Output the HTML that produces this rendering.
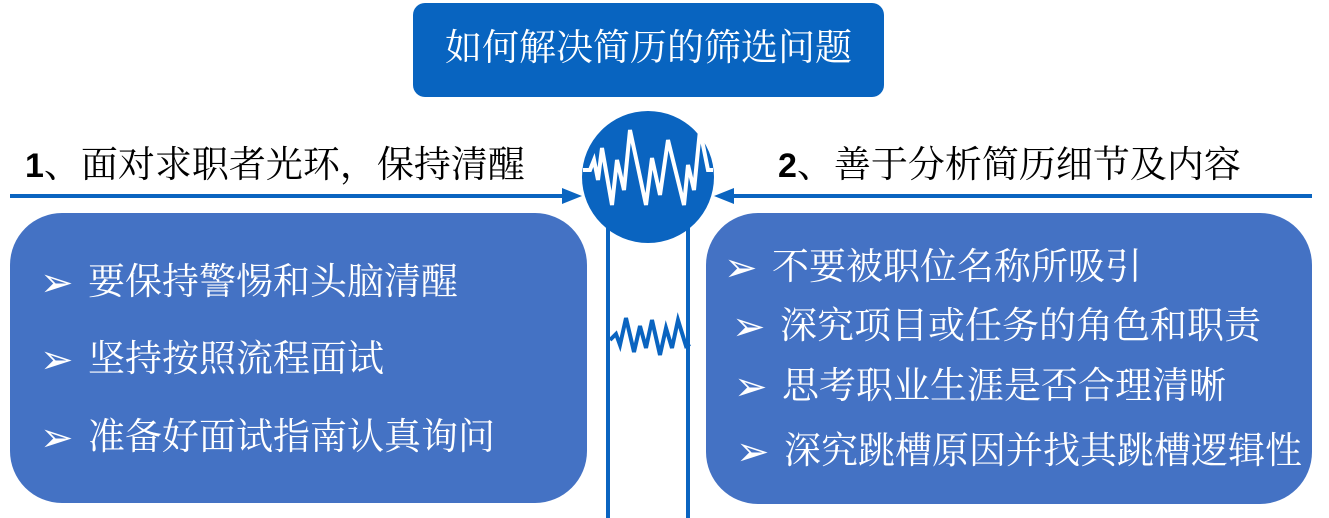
<!DOCTYPE html>
<html><head><meta charset="utf-8"><style>
body{margin:0;width:1329px;height:518px;background:#fff;position:relative;overflow:hidden;font-family:"Liberation Serif","Noto Serif CJK SC",serif}
.t{position:absolute;white-space:nowrap;font-size:37px;line-height:40px}
.w{color:#fff}
.a{display:inline-block;width:48px;font-size:40px;font-family:"DejaVu Sans",sans-serif;vertical-align:top;line-height:40px}
.box{position:absolute;background:#4472C4;border-radius:52px}
</style></head><body>
<div style="position:absolute;left:413px;top:3px;width:471px;height:94px;background:#0864C0;border-radius:12px"></div>
<div class="t w" style="left:413px;width:471px;text-align:center;top:29px">如何解决简历的筛选问题</div>
<div class="box" style="left:10px;top:213px;width:577px;height:290px"></div>
<div class="box" style="left:706px;top:213px;width:606px;height:291px"></div>
<svg style="position:absolute;left:0;top:0" width="1329" height="518">
<line x1="10" y1="196" x2="568" y2="196" stroke="#0a64c0" stroke-width="4"/>
<polygon points="582,196 562,188 562,204" fill="#0a64c0"/>
<line x1="734" y1="196" x2="1312" y2="196" stroke="#0a64c0" stroke-width="4"/>
<polygon points="714,196 734,188 734,204" fill="#0a64c0"/>
<line x1="608" y1="225" x2="608" y2="518" stroke="#0a64c0" stroke-width="4"/>
<line x1="688" y1="225" x2="688" y2="518" stroke="#0a64c0" stroke-width="4"/>
<circle cx="648" cy="177" r="66" fill="#0a64c0"/>
<polyline points="583,170 590,170 594,160 598,180 602,148 612,205 617,160 624,190 630,130 646,205 652,158 660,195 668,140 684,205 688,165 694,190 700,130 708,170 713,170" fill="none" stroke="#fff" stroke-width="4"/>
<polyline points="610,340 616,334 620,345 626,318 634,352 640,326 646,348 652,320 660,355 666,328 672,348 678,320 686,346 690,344" fill="none" stroke="#0a64c0" stroke-width="4"/>
</svg>
<div class="t" style="left:25px;top:146px;color:#000"><b style="font-size:34px;font-family:'Liberation Sans',sans-serif">1</b>、面对求职者光环，保持清醒</div>
<div class="t" style="left:778px;top:146px;color:#000"><b style="font-size:34px;font-family:'Liberation Sans',sans-serif">2</b>、善于分析简历细节及内容</div>
<div class="t w" style="left:40px;top:263px"><span class="a">➢</span>要保持警惕和头脑清醒</div>
<div class="t w" style="left:40px;top:340px"><span class="a">➢</span>坚持按照流程面试</div>
<div class="t w" style="left:40px;top:418px"><span class="a">➢</span>准备好面试指南认真询问</div>
<div class="t w" style="left:724px;top:248px"><span class="a">➢</span>不要被职位名称所吸引</div>
<div class="t w" style="left:732px;top:307px"><span class="a">➢</span>深究项目或任务的角色和职责</div>
<div class="t w" style="left:734px;top:367px"><span class="a">➢</span>思考职业生涯是否合理清晰</div>
<div class="t w" style="left:736px;top:432px"><span class="a">➢</span>深究跳槽原因并找其跳槽逻辑性</div>
</body></html>
